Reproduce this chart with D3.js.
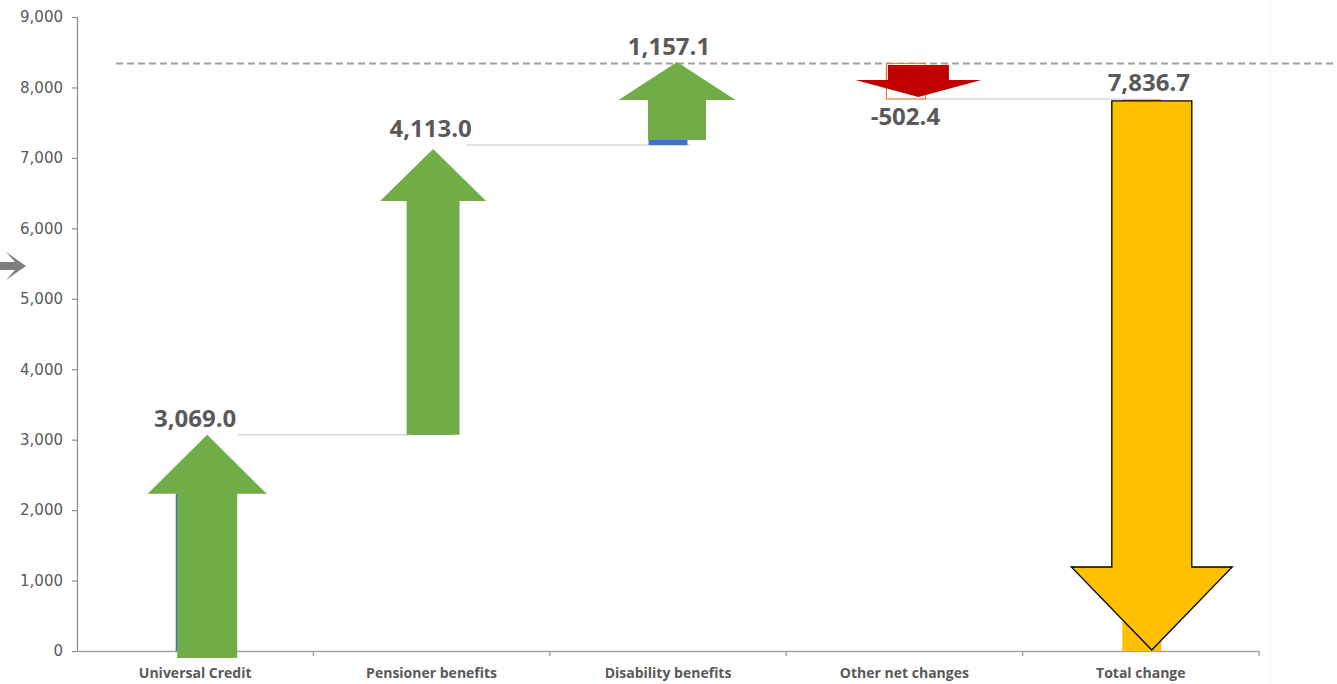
<!DOCTYPE html>
<html>
<head>
<meta charset="utf-8">
<script src="https://cdn.jsdelivr.net/npm/d3@7"></script>
<style>
  html, body { margin: 0; padding: 0; background: #fff; }
  svg { display: block; }
</style>
</head>
<body>
<svg id="chart" width="1337" height="684"></svg>
<script>
// ---- data ----
const categories = ["Universal Credit", "Pensioner benefits", "Disability benefits", "Other net changes", "Total change"];
const changes = [3069.0, 4113.0, 1157.1, -502.4, 7836.7];
const isTotal = [false, false, false, false, true];
const valueLabels = ["3,069.0", "4,113.0", "1,157.1", "-502.4", "7,836.7"];
const yTicks = [0, 1000, 2000, 3000, 4000, 5000, 6000, 7000, 8000, 9000];

// ---- styles ----
const barStyle = [
  { fill: "#4472C4", stroke: "none", dx: 0 },
  { fill: "#4472C4", stroke: "none", dx: 1 },
  { fill: "#4472C4", stroke: "none", dx: 0 },
  { fill: "#ffffff", stroke: "#ED7D31", dx: 1.5 },
  { fill: "#FFC000", stroke: "none", dx: 1 }
];
const arrowColors = ["#70AD47", "#70AD47", "#70AD47", "#C00000", "#FFC000"];
// arrow shape (pixels): centre offset, shaft width, head width, head height,
// tailPad = px the tail extends beyond its start, tipPad = px the tip stops short of its target
const arrowStyle = [
  { dx: 12,  shaft: 60, head: 119, headH: 59, tailPad: 7,    tipPad: 0,    stroke: "none" },
  { dx: 1.5, shaft: 53, head: 106, headH: 52, tailPad: 0,    tipPad: 4,    stroke: "none" },
  { dx: 9,   shaft: 58, head: 117, headH: 38, tailPad: -5,   tipPad: -1.5, stroke: "none" },
  { dx: 14,  shaft: 61, head: 126, headH: 17, tailPad: -1.5, tipPad: 2,    stroke: "none" },
  { dx: 11,  shaft: 80, head: 161, headH: 83, tailPad: -2,   tipPad: 1,    stroke: "#000" }
];
const labelStyle = [
  { dx: 0,  dy: -8 }, { dx: -1, dy: -8 }, { dx: 1, dy: -9 }, { dx: 1, dy: 26 }, { dx: 8, dy: -8 }
];

const svg = d3.select("#chart");
const x = d3.scaleBand().domain(categories).range([77, 1259]).padding(0);
const y = d3.scaleLinear().domain([0, 9000]).range([651, 17]);
const bw = x.bandwidth();
const cx = c => x(c) + bw / 2;

// waterfall steps
let run = 0;
const steps = categories.map((c, i) => {
  let s, e;
  if (isTotal[i]) { s = 0; e = changes[i]; }
  else { s = run; e = run + changes[i]; run = e; }
  const from = isTotal[i] ? e : s;
  const to = isTotal[i] ? s : e;
  return { c, i, s, e, from, to };
});

// arrow geometry in pixels
steps.forEach(d => {
  const st = arrowStyle[d.i];
  const dir = y(d.to) < y(d.from) ? -1 : 1;
  d.dir = dir;
  d.ax = cx(d.c) + st.dx;
  d.tail = y(d.from) - dir * st.tailPad;
  d.tip = y(d.to) - dir * st.tipPad;
  d.base = d.tip - dir * st.headH;
});

// faint right border
svg.append("line").attr("x1", 1270).attr("x2", 1270).attr("y1", 0).attr("y2", 684)
  .attr("stroke", "#f4f4f4").attr("stroke-width", 1);

// y axis
const yAxis = svg.append("g").attr("transform", "translate(77,0)")
  .call(d3.axisLeft(y).tickValues(yTicks).tickFormat(d3.format(",")).tickSize(5).tickPadding(9));
yAxis.select(".domain").attr("stroke", "#8c8c8c").attr("stroke-width", 1.2);
yAxis.selectAll(".tick line").attr("stroke", "#8c8c8c").attr("stroke-width", 1.2);
yAxis.selectAll(".tick text").attr("fill", "#595959")
  .style("font-family", "'DejaVu Sans', sans-serif").style("font-size", "15px");

// x axis
const xAxis = svg.append("g").attr("transform", "translate(0,651)")
  .call(d3.axisBottom(x).tickSize(0).tickPadding(17));
xAxis.select(".domain").attr("stroke", "#a6a6a6").attr("stroke-width", 1.5);
xAxis.selectAll(".tick text").attr("fill", "#595959")
  .style("font-family", "'Open Sans', sans-serif").style("font-size", "14px").style("font-weight", "bold");
xAxis.selectAll(".sep").data(categories).enter().append("line").attr("class", "sep")
  .attr("x1", d => x(d) + bw).attr("x2", d => x(d) + bw).attr("y1", 0).attr("y2", 5)
  .attr("stroke", "#a6a6a6").attr("stroke-width", 1.5);

// connectors
const connectors = [
  { from: 0, to: 1, v: steps[0].e, x0: 43, x1: -19 },
  { from: 1, to: 2, v: steps[1].e, x0: 35, x1: 22 },
  { from: 3, to: 4, v: steps[3].e, x0: 14, x1: -18 }
];
svg.selectAll(".conn").data(connectors).enter().append("line")
  .attr("x1", d => cx(categories[d.from]) + d.x0)
  .attr("x2", d => cx(categories[d.to]) + d.x1)
  .attr("y1", d => y(d.v)).attr("y2", d => y(d.v))
  .attr("stroke", "#d9d9d9").attr("stroke-width", 1.5);

// dashed peak line
const peak = d3.max(steps, d => Math.max(d.s, d.e));
svg.append("line").attr("x1", 116).attr("x2", 1336).attr("y1", y(peak)).attr("y2", y(peak))
  .attr("stroke", "#a0a0a0").attr("stroke-width", 2).attr("stroke-dasharray", "7,4");

// underlying waterfall bars (rising bars only show up to the arrow head)
const barW = 39;
function barExtent(d) {
  if (!isTotal[d.i] && d.e > d.s) return [d.base, y(d.s)];
  return [y(Math.max(d.s, d.e)), y(Math.min(d.s, d.e))];
}
svg.selectAll(".bar").data(steps).enter().append("rect")
  .attr("x", d => cx(d.c) - barW / 2 + barStyle[d.i].dx)
  .attr("width", barW)
  .attr("y", d => barExtent(d)[0])
  .attr("height", d => barExtent(d)[1] - barExtent(d)[0])
  .attr("fill", d => barStyle[d.i].fill)
  .attr("stroke", d => barStyle[d.i].stroke)
  .attr("stroke-width", 1.2);

// arrows
function arrowPath(d) {
  const st = arrowStyle[d.i];
  const c = d.ax;
  const p = d3.path();
  p.moveTo(c - st.shaft / 2, d.tail);
  p.lineTo(c - st.shaft / 2, d.base);
  p.lineTo(c - st.head / 2, d.base);
  p.lineTo(c, d.tip);
  p.lineTo(c + st.head / 2, d.base);
  p.lineTo(c + st.shaft / 2, d.base);
  p.lineTo(c + st.shaft / 2, d.tail);
  p.closePath();
  return p.toString();
}
svg.selectAll(".arrow").data(steps).enter().append("path")
  .attr("d", arrowPath)
  .attr("fill", (d, i) => arrowColors[i])
  .attr("stroke", (d, i) => arrowStyle[i].stroke)
  .attr("stroke-width", 1.3)
  .attr("stroke-linejoin", "miter");

// value labels
svg.selectAll(".vlab").data(steps).enter().append("text")
  .attr("x", d => cx(d.c) + labelStyle[d.i].dx)
  .attr("y", d => y(d.e) + labelStyle[d.i].dy)
  .attr("text-anchor", "middle")
  .attr("fill", "#595959")
  .style("font-family", "'Open Sans', sans-serif").style("font-size", "24px").style("font-weight", "bold")
  .text((d, i) => valueLabels[i]);

// pointer arrow at left edge
svg.append("path")
  .attr("d", "M0,262 L15,262 L6,252 L26,266 L6,280 L15,270 L0,270 Z")
  .attr("fill", "#7f7f7f");
</script>
</body>
</html>
